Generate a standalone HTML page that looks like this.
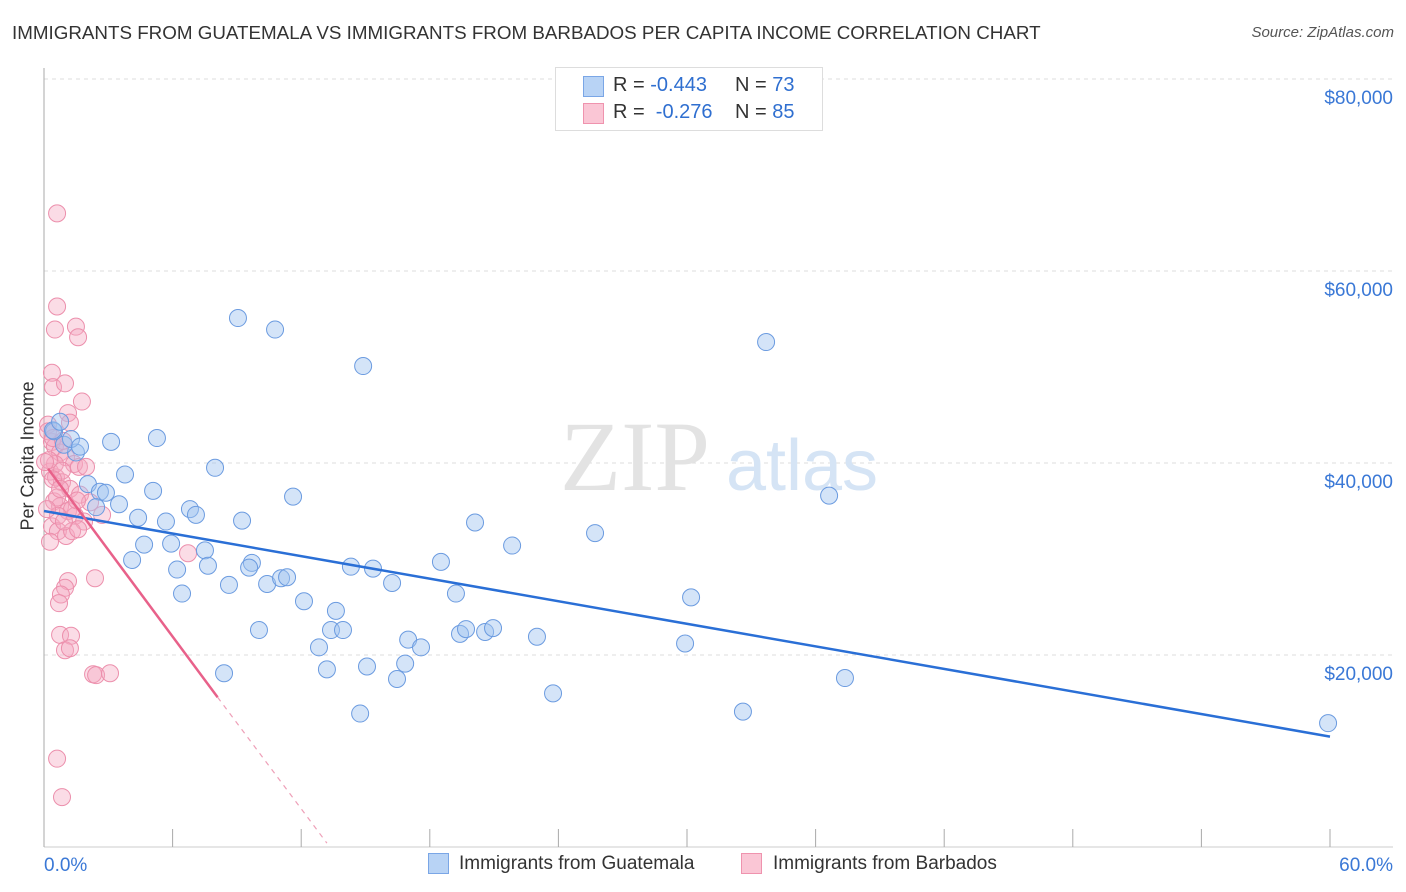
<!DOCTYPE html>
<html><head><meta charset="utf-8"><style>
body{margin:0;background:#fff;font-family:"Liberation Sans",sans-serif;}
#wrap{position:relative;width:1406px;height:892px;overflow:hidden;}
.t{position:absolute;white-space:nowrap;}
</style></head><body>
<div id="wrap">
<div class="t" style="left:12px;top:22px;font-size:18.8px;color:#333;">IMMIGRANTS FROM GUATEMALA VS IMMIGRANTS FROM BARBADOS PER CAPITA INCOME CORRELATION CHART</div>
<div class="t" style="right:12px;top:24px;font-size:15px;color:#555;font-style:italic;">Source: ZipAtlas.com</div>
<svg id="svg" width="1406" height="892" style="position:absolute;left:0;top:0;"></svg>
<div class="t" style="left:28px;top:456px;font-size:18px;color:#333;transform:translate(-50%,-50%) rotate(-90deg);">Per Capita Income</div>
<div style="position:absolute;left:555px;top:67px;width:266px;height:62px;border:1px solid #ddd;background:#fff;font-size:20px;">
 <div style="position:absolute;left:27px;top:8px;width:19px;height:19px;background:#b8d3f5;border:1px solid #7aa6e6;"></div>
 <div class="t" style="left:57px;top:6px;color:#333;">R = <span style="color:#2f6fd0">-0.443</span></div>
 <div class="t" style="left:179px;top:6px;color:#333;">N = <span style="color:#2f6fd0">73</span></div>
 <div style="position:absolute;left:27px;top:35px;width:19px;height:19px;background:#fac6d5;border:1px solid #ef93ae;"></div>
 <div class="t" style="left:57px;top:33px;color:#333;">R = &nbsp;<span style="color:#2f6fd0">-0.276</span></div>
 <div class="t" style="left:179px;top:33px;color:#333;">N = <span style="color:#2f6fd0">85</span></div>
</div>
<div>
 <div style="position:absolute;left:428px;top:853px;width:19px;height:19px;background:#b8d3f5;border:1px solid #7aa6e6;"></div>
 <div class="t" style="left:459px;top:853px;font-size:19px;color:#333;">Immigrants from Guatemala</div>
</div>
<div>
 <div style="position:absolute;left:741px;top:853px;width:19px;height:19px;background:#fac6d5;border:1px solid #ef93ae;"></div>
 <div class="t" style="left:773px;top:853px;font-size:19px;color:#333;">Immigrants from Barbados</div>
</div>
</div>
<script>
const yTicks=[20,40,60,80];
const yTickLabels=["$20,000","$40,000","$60,000","$80,000"];
const xTickLabels=["0.0%","60.0%"];
// Guatemala: x in %, y in $1000
const guaX=[9.05,10.78,14.89,33.69,3.13,5.27,7.98,3.78,5.09,2.05,2.61,2.89,3.50,6.81,7.09,4.39,5.69,9.24,11.62,36.63,20.11,25.71,21.84,4.67,5.93,4.11,7.51,9.70,9.57,7.65,6.21,6.44,8.63,10.41,11.06,11.34,12.13,13.62,14.32,15.35,16.24,18.52,19.22,10.03,13.39,13.95,12.83,16.99,17.59,19.41,19.69,20.58,20.95,23.00,30.19,29.91,13.20,15.07,16.47,16.85,8.40,14.75,23.75,32.61,37.37,59.91,1.49,0.93,0.47,2.43,0.42,0.75,1.26,1.68];
const guaY=[55.1,53.9,50.1,52.6,42.2,42.6,39.5,38.8,37.1,37.8,37.0,36.9,35.7,35.2,34.6,34.3,33.9,34.0,36.5,36.6,33.8,32.7,31.4,31.5,31.6,29.9,30.9,29.6,29.1,29.3,28.9,26.4,27.3,27.4,28.0,28.1,25.6,24.6,29.2,29.0,27.5,29.7,26.4,22.6,22.6,22.6,20.8,21.6,20.8,22.2,22.7,22.4,22.8,21.9,26.0,21.2,18.5,18.8,17.5,19.1,18.1,13.9,16.0,14.1,17.6,12.9,41.1,41.9,43.3,35.4,43.4,44.3,42.5,41.7];
// Barbados
const barX=[0.61,0.61,0.51,1.49,1.59,0.37,0.42,0.98,1.77,1.12,1.21,0.19,0.37,0.51,0.75,1.03,1.40,1.63,0.28,0.56,0.84,1.21,1.68,0.47,0.75,1.12,1.45,1.87,0.37,0.65,1.03,1.31,1.59,0.51,0.84,0.23,1.96,0.61,2.15,2.71,6.72,2.38,1.12,0.98,0.79,0.70,0.75,1.26,0.98,1.21,2.29,2.43,3.08,0.61,0.84,0.19,0.42,0.89,1.31,1.54,0.65,0.93,0.28,0.14,0.42,0.75,0.05];
const barY=[66.0,56.3,53.9,54.2,53.1,49.4,47.9,48.3,46.4,45.2,44.2,44.0,42.2,41.7,41.1,40.6,39.9,39.6,39.1,38.5,38.0,37.3,36.7,36.0,35.5,35.0,34.5,33.9,33.4,32.9,32.4,32.9,33.1,39.9,39.2,40.3,39.6,36.4,35.9,34.6,30.6,28.0,27.7,27.0,26.3,25.4,22.1,22.0,20.5,20.7,18.0,17.9,18.1,9.2,5.2,43.3,42.6,42.3,35.2,36.1,34.5,33.9,31.8,35.2,38.3,37.3,40.1];
const guaLine=[[0,35.0],[60,11.5]];
const barLineSolid=[[0.19,39.4],[8.1,15.6]];
const barLineDash=[[8.1,15.6],[13.2,0.4]];
const X0=44,X1=1330,Y0=847,PPK=9.6;
const xs=v=>X0+(X1-X0)*v/60, ys=v=>Y0-v*PPK;
const svg=document.getElementById('svg');const NS='http://www.w3.org/2000/svg';
function mk(t,a){const e=document.createElementNS(NS,t);for(const k in a)e.setAttribute(k,a[k]);svg.appendChild(e);return e;}
yTicks.forEach((v,i)=>{
 const g=mk('line',{x1:44,x2:1393,y1:ys(v),y2:ys(v),stroke:'#ddd','stroke-dasharray':'4 4'});
 
 
 const t=mk('text',{x:1393,y:ys(v)+25,'text-anchor':'end','font-size':19,fill:'#3a78d6','font-family':'Liberation Sans, sans-serif'});
 t.textContent=yTickLabels[i];
 
 
});
const ax=mk('line',{x1:44,x2:44,y1:68,y2:847,stroke:'#aaa'});


const bx=mk('line',{x1:44,x2:1393,y1:847,y2:847,stroke:'#ccc'});


for(let i=0;i<=10;i++){const l=mk('line',{x1:xs(i*6),x2:xs(i*6),y1:829,y2:847,stroke:'#aaa'});
 
 }
[[0,44,'start'],[60,1393,'end']].forEach((d,i)=>{const t=mk('text',{x:d[1],y:871,'text-anchor':d[2],'font-size':19,fill:'#3a78d6','font-family':'Liberation Sans, sans-serif'});t.textContent=xTickLabels[i];
 
 });
const w1=mk('text',{x:635,y:490,'text-anchor':'middle','font-size':100,fill:'#e3e3e3','font-family':'Liberation Serif, serif'});w1.textContent='ZIP';


const w2=mk('text',{x:802,y:490,'text-anchor':'middle','font-size':72,fill:'#d5e4f5','font-family':'Liberation Sans, sans-serif'});w2.textContent='atlas';


barX.forEach((x,i)=>{const c=mk('circle',{cx:xs(x),cy:ys(barY[i]),r:8.5,fill:'rgba(246,168,192,0.4)',stroke:'#ec8fac','stroke-width':1});
 
 });
guaX.forEach((x,i)=>{const c=mk('circle',{cx:xs(x),cy:ys(guaY[i]),r:8.5,fill:'rgba(160,196,240,0.45)',stroke:'#6b9be0','stroke-width':1});
 
 });
const l1=mk('line',{x1:xs(guaLine[0][0]),y1:ys(guaLine[0][1]),x2:xs(guaLine[1][0]),y2:ys(guaLine[1][1]),stroke:'#2a6fd6','stroke-width':2.5});


const l2=mk('line',{x1:xs(barLineSolid[0][0]),y1:ys(barLineSolid[0][1]),x2:xs(barLineSolid[1][0]),y2:ys(barLineSolid[1][1]),stroke:'#e8618a','stroke-width':2.5});


const l3=mk('line',{x1:xs(barLineDash[0][0]),y1:ys(barLineDash[0][1]),x2:xs(barLineDash[1][0]),y2:ys(barLineDash[1][1]),stroke:'#eea0b8','stroke-width':1.2,'stroke-dasharray':'5 5'});


</script>
</body></html>
